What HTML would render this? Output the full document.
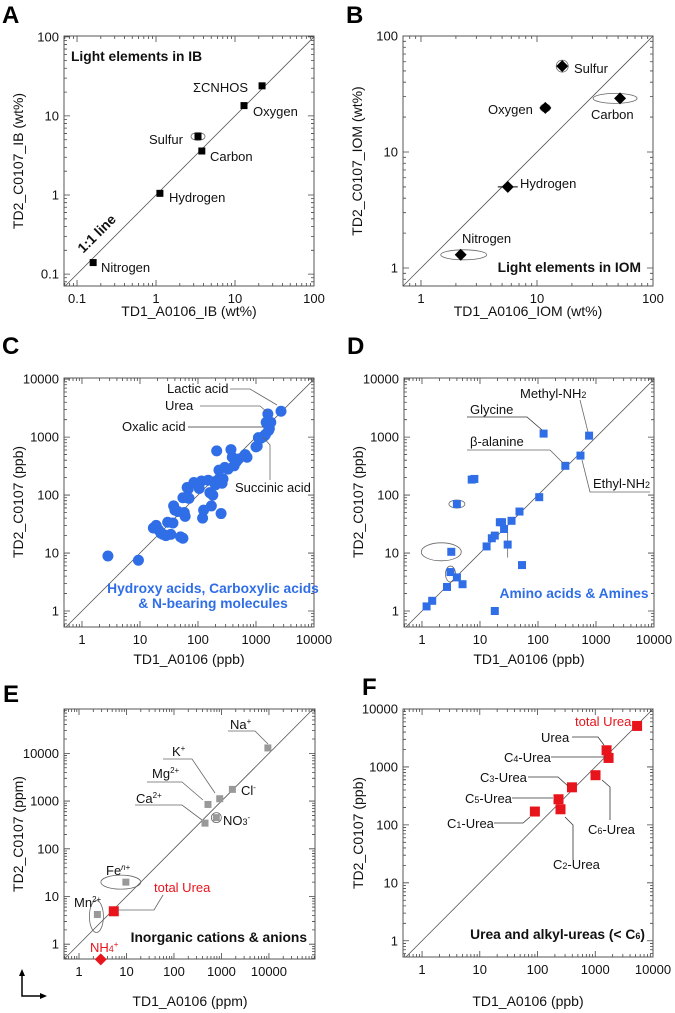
<!DOCTYPE html>
<html><head><meta charset="utf-8"><style>
html,body{margin:0;padding:0;background:#fff}
svg{display:block;font-family:"Liberation Sans",Arial,sans-serif}
.t{font-size:13px;fill:#111}
.tk{font-size:13px;fill:#111}
.ax{font-size:14px;fill:#111}
.b{font-weight:bold;font-size:13.8px;fill:#111}
.bl{font-weight:bold;font-size:13.8px;fill:#2f6ee6}
.pl{font-weight:bold;font-size:24px;fill:#000}
.red{fill:#e8141c}
.ld{stroke:#666;stroke-width:0.8;fill:none}
</style></head><body>
<svg id="fig" width="675" height="1013" viewBox="0 0 675 1013">
<g id="marks"></g>
<text class="pl" x="2" y="23">A</text>
<text class="pl" x="346" y="23">B</text>
<text class="pl" x="2" y="354">C</text>
<text class="pl" x="347" y="354">D</text>
<text class="pl" x="3" y="702">E</text>
<text class="pl" x="362" y="695">F</text>
<text class="ax" x="189" y="316" text-anchor="middle">TD1_A0106_IB (wt%)</text>
<text class="ax" transform="translate(23,161) rotate(-90)" text-anchor="middle">TD2_C0107_IB (wt%)</text>
<text class="ax" x="528" y="316" text-anchor="middle">TD1_A0106_IOM (wt%)</text>
<text class="ax" transform="translate(362,161) rotate(-90)" text-anchor="middle">TD2_C0107_IOM (wt%)</text>
<text class="ax" x="189" y="664" text-anchor="middle">TD1_A0106 (ppb)</text>
<text class="ax" transform="translate(23,502) rotate(-90)" text-anchor="middle">TD2_C0107 (ppb)</text>
<text class="ax" x="529" y="664" text-anchor="middle">TD1_A0106 (ppb)</text>
<text class="ax" transform="translate(363,502) rotate(-90)" text-anchor="middle">TD2_C0107 (ppb)</text>
<text class="ax" x="190" y="1006" text-anchor="middle">TD1_A0106 (ppm)</text>
<text class="ax" transform="translate(23,834) rotate(-90)" text-anchor="middle">TD2_C0107 (ppm)</text>
<text class="ax" x="528" y="1006" text-anchor="middle">TD1_A0106 (ppb)</text>
<text class="ax" transform="translate(363,833) rotate(-90)" text-anchor="middle">TD2_C0107 (ppb)</text>

<text class="b" x="71" y="61">Light elements in IB</text>
<text class="t" x="193" y="92">ΣCNHOS</text>
<text class="t" x="253" y="116">Oxygen</text>
<text class="t" x="149" y="144">Sulfur</text>
<text class="t" x="210" y="161">Carbon</text>
<text class="t" x="169" y="202">Hydrogen</text>
<text class="t" x="101" y="272">Nitrogen</text>
<text class="b" transform="translate(100,237) rotate(-45)" text-anchor="middle">1:1 line</text>

<text class="t" x="574" y="73">Sulfur</text>
<text class="t" x="488" y="114">Oxygen</text>
<text class="t" x="591" y="119">Carbon</text>
<text class="t" x="520" y="188">Hydrogen</text>
<text class="t" x="462" y="243">Nitrogen</text>
<text class="b" x="641" y="272" text-anchor="end">Light elements in IOM</text>

<text class="t" x="167" y="393">Lactic acid</text>
<polyline class="ld" points="230,389 250,389 277,405"/>
<text class="t" x="165" y="410">Urea</text>
<polyline class="ld" points="200,406 260,406 267,412"/>
<text class="t" x="122" y="431">Oxalic acid</text>
<polyline class="ld" points="188,427 263,427" style="stroke:#333"/>
<text class="t" x="235" y="492">Succinic acid</text>
<polyline class="ld" points="270,480 270,445 263,437"/>
<text class="bl" x="213" y="593" text-anchor="middle">Hydroxy acids, Carboxylic acids</text>
<text class="bl" x="213" y="608" text-anchor="middle">&amp; N-bearing molecules</text>

<text class="t" x="520" y="398">Methyl-NH<tspan font-size="9">2</tspan></text>
<polyline class="ld" points="580,400 588,432"/>
<text class="t" x="470" y="414">Glycine</text>
<polyline class="ld" points="467,417 527,417 542,430" style="stroke:#333"/>
<text class="t" x="470" y="446">β-alanine</text>
<polyline class="ld" points="467,450 550,450 563,463"/>
<text class="t" x="593" y="488">Ethyl-NH<tspan font-size="9">2</tspan></text>
<polyline class="ld" points="650,492 590,492 582,460"/>
<text class="bl" x="574" y="598" text-anchor="middle">Amino acids &amp; Amines</text>

<text class="t" x="230" y="729">Na<tspan font-size="8" dy="-5">+</tspan></text>
<polyline class="ld" points="228,731 255,731 268,744"/>
<text class="t" x="172" y="756">K<tspan font-size="8" dy="-5">+</tspan></text>
<polyline class="ld" points="163,759 192,759 215,793"/>
<text class="t" x="152" y="778">Mg<tspan font-size="8" dy="-5">2+</tspan></text>
<polyline class="ld" points="147,782 182,782 203,800"/>
<text class="t" x="136" y="803">Ca<tspan font-size="8" dy="-5">2+</tspan></text>
<polyline class="ld" points="135,805 182,805 202,820"/>
<text class="t" x="241" y="795">Cl<tspan font-size="8" dy="-5">-</tspan></text>
<text class="t" x="223" y="825">NO<tspan font-size="9">3</tspan><tspan font-size="8" dy="-5">-</tspan></text>
<text class="t" x="106" y="875">Fe<tspan font-size="8" dy="-5"><tspan font-style="italic">n</tspan>+</tspan></text>
<text class="t" x="74" y="907">Mn<tspan font-size="8" dy="-5">2+</tspan></text>
<text class="t red" x="154" y="892">total Urea</text>
<polyline class="ld" points="118,910 154,910 163,895"/>
<text class="t red" x="90" y="952">NH<tspan font-size="9">4</tspan><tspan font-size="8" dy="-5">+</tspan></text>
<text class="b" x="307" y="942" text-anchor="end">Inorganic cations &amp; anions</text>
<g stroke="#000" stroke-width="1.5" fill="none">
<polyline points="22,974 22,996 44,996"/>
<polygon points="22,969 19,976 25,976" fill="#000" stroke="none"/>
<polygon points="47,996 40,993 40,999" fill="#000" stroke="none"/>
</g>

<text class="t red" x="575" y="726">total Urea</text>
<text class="t" x="541" y="742">Urea</text>
<polyline class="ld" points="572,737 598,737 604,745" style="stroke:#333"/>
<text class="t" x="504" y="762">C<tspan font-size="9">4</tspan>-Urea</text>
<polyline class="ld" points="551,757 605,757" style="stroke:#333"/>
<text class="t" x="480" y="782">C<tspan font-size="9">3</tspan>-Urea</text>
<polyline class="ld" points="528,777 558,777 568,786" style="stroke:#333"/>
<text class="t" x="465" y="803">C<tspan font-size="9">5</tspan>-Urea</text>
<polyline class="ld" points="512,798 553,798" style="stroke:#333"/>
<text class="t" x="447" y="828">C<tspan font-size="9">1</tspan>-Urea</text>
<polyline class="ld" points="494,823 523,823 530,817" style="stroke:#333"/>
<text class="t" x="553" y="869">C<tspan font-size="9">2</tspan>-Urea</text>
<polyline class="ld" points="573,860 573,825 565,817" style="stroke:#333"/>
<text class="t" x="588" y="834">C<tspan font-size="9">6</tspan>-Urea</text>
<polyline class="ld" points="610,820 610,787 602,780" style="stroke:#333"/>
<text class="b" x="645" y="939" text-anchor="end">Urea and alkyl-ureas (&lt; C<tspan font-size="9">6</tspan>)</text>
</svg>
<script>
const aNames=["CNHOS","Oxygen","Sulfur","Carbon","Hydrogen","Nitrogen"];
const aX=[22,13,3.4,3.8,1.12,0.16];
const aY=[24,13.5,5.5,3.6,1.05,0.14];
const bNames=["Sulfur","Oxygen","Carbon","Hydrogen","Nitrogen"];
const bX=[16.5,11.8,52,5.6,2.2];
const bY=[55,24,29,5,1.3];
const cX=[2.8,9.4,17,19,21,23,25,28,30,34,37,38,40,45,50,55,58,60,55,65,70,65,68,85,100,105,115,120,125,150,160,170,180,190,200,210,220,230,240,250,260,270,290,330,370,390,420,460,500,650,700,1000,1050,1100,1200,1300,1400,1450,1500,1550,1600,1700,1800,1650,2700];
const cY=[8.9,7.5,27,30,25,22,21,20,34,21,33,65,55,52,19,18,50,43,90,90,88,135,128,165,160,130,175,40,55,180,110,65,100,170,150,580,180,270,200,48,160,190,300,280,610,450,320,380,420,500,450,680,700,980,950,1000,1050,1100,1800,1700,2500,1400,1800,1300,2800];
const dX=[13,16,18,26,22,24,35,30,53,18,7.2,8,4,3.2,3.1,4,5,2.7,1.5,1.2,48,105,296,540,125,760];
const dY=[13,18,20,26,34,34,36,14,6.2,1,185,190,70,10.5,4.7,3.8,2.9,2.6,1.5,1.2,52,92,320,480,1150,1060];
const eNames=["Na","K","Cl","Mg","Ca","NO3","Fe","Mn"];
const eX=[9500,920,1700,520,450,780,9.7,2.44];
const eY=[13000,1120,1760,850,345,450,20,4.2];
const eUreaX=[5.4], eUreaY=[4.9];
const eNH4X=[2.87], eNH4Y=[0.48];
const fNames=["total Urea","Urea","C4","C6","C3","C5","C2","C1"];
const fX=[5300,1570,1700,1010,395,231,250,90];
const fY=[5100,1940,1430,720,445,277,186,170];
const tickAB_A=[0.1,1,10,100];
const tickB=[1,10,100];
const tick4=[1,10,100,1000,10000];

const P={
 A:{x0:64,x1:314,y0:36,y1:286,lx0:-1.165,lx1:2.0,ly0:-1.15,ly1:2.01,xt:tickAB_A,yt:tickAB_A},
 B:{x0:403,x1:653,y0:36,y1:286,lx0:-0.155,lx1:2.0,ly0:-0.155,ly1:2.0,xt:tickB,yt:tickB},
 C:{x0:64,x1:314,y0:378,y1:627,lx0:-0.31,lx1:4.0,ly0:-0.276,ly1:4.02,xt:tick4,yt:tick4},
 D:{x0:404,x1:654,y0:378,y1:627,lx0:-0.31,lx1:4.0,ly0:-0.276,ly1:4.02,xt:tick4,yt:tick4},
 E:{x0:64,x1:315,y0:709,y1:959,lx0:-0.316,lx1:4.97,ly0:-0.31,ly1:4.93,xt:tick4,yt:tick4},
 F:{x0:403,x1:653,y0:709,y1:957,lx0:-0.33,lx1:4.0,ly0:-0.28,ly1:4.0,xt:tick4,yt:tick4}
};
const NS="http://www.w3.org/2000/svg";
const root=document.getElementById('marks');
function sx(p,v){return p.x0+(Math.log10(v)-p.lx0)/(p.lx1-p.lx0)*(p.x1-p.x0);}
function sy(p,v){return p.y1-(Math.log10(v)-p.ly0)/(p.ly1-p.ly0)*(p.y1-p.y0);}
function mk(tag,attrs,parent){const e=document.createElementNS(NS,tag);for(const k in attrs)e.setAttribute(k,attrs[k]);(parent||root).appendChild(e);return e;}
function fmt(v){return v<1?String(v):String(Math.round(v));}

function axes(key){
 const p=P[key];const g=mk('g',{});
 
 
 const lo=Math.max(p.lx0,p.ly0),hi=Math.min(p.lx1,p.ly1);
 const ln=mk('line',{x1:sx(p,Math.pow(10,lo)),y1:sy(p,Math.pow(10,lo)),x2:sx(p,Math.pow(10,hi)),y2:sy(p,Math.pow(10,hi)),stroke:'#555','stroke-width':0.8},g);
 
 
 let d='';
 for(let k=Math.floor(p.lx0);k<=Math.ceil(p.lx1);k++)for(let m=1;m<=9;m++){const l=k+Math.log10(m);if(l<p.lx0||l>p.lx1)continue;const x=sx(p,Math.pow(10,l));const L=m==1?6:3;d+=`M${x},${p.y1}v${-L}M${x},${p.y0}v${L}`;}
 for(let k=Math.floor(p.ly0);k<=Math.ceil(p.ly1);k++)for(let m=1;m<=9;m++){const l=k+Math.log10(m);if(l<p.ly0||l>p.ly1)continue;const y=sy(p,Math.pow(10,l));const L=m==1?6:3;d+=`M${p.x0},${y}h${L}M${p.x1},${y}h${-L}`;}
 mk('path',{d:d,stroke:'#444','stroke-width':0.8,fill:'none'},g);
 const fr=mk('rect',{x:p.x0,y:p.y0,width:p.x1-p.x0,height:p.y1-p.y0,fill:'none',stroke:'#555','stroke-width':1},g);
 
 
 p.xt.forEach(v=>{const t=mk('text',{x:sx(p,v),y:p.y1+17,'text-anchor':'middle',class:'tk'},g);t.textContent=fmt(v);
  
  });
 p.yt.forEach(v=>{const t=mk('text',{x:p.x0-5,y:sy(p,v)+4.5,'text-anchor':'end',class:'tk'},g);t.textContent=fmt(v);
  
  });
}
function sq(p,x,y,s,fill,name){const r=mk('rect',{x:sx(p,x)-s/2,y:sy(p,y)-s/2,width:s,height:s,fill:fill});
 
 return r;}
function dia(p,x,y,s,fill,name){const cx=sx(p,x),cy=sy(p,y);const r=mk('polygon',{points:`${cx},${cy-s} ${cx+s},${cy} ${cx},${cy+s} ${cx-s},${cy}`,fill:fill});
 
 return r;}
function ell(p,x,y,rx,ry,dx,dy){const e=mk('ellipse',{cx:sx(p,x)+(dx||0),cy:sy(p,y)+(dy||0),rx:rx,ry:ry,fill:'none',stroke:'#666','stroke-width':0.8});
 
 }

['A','B','C','D','E','F'].forEach(axes);
ell(P.A,aX[2],aY[2],7,4);
aX.forEach((v,i)=>sq(P.A,v,aY[i],7,'#000','point-'+aNames[i].toLowerCase()));
ell(P.B,bX[0],bY[0],6,6);ell(P.B,bX[1],bY[1],5,4);ell(P.B,bX[2],bY[2],22,5,-5);ell(P.B,bX[4],bY[4],23,5,3);
{const p=P.B;mk('line',{x1:sx(p,bX[3])-10,x2:sx(p,bX[3])+10,y1:sy(p,bY[3]),y2:sy(p,bY[3]),stroke:'#000','stroke-width':1});}
bX.forEach((v,i)=>dia(P.B,v,bY[i],6,'#000','point-'+bNames[i].toLowerCase()));
cX.forEach((v,i)=>{const c=mk('circle',{cx:sx(P.C,v),cy:sy(P.C,cY[i]),r:5.5,fill:'#2f6ee6'});
 
 });
ell(P.D,dX[12],dY[12],8,4);ell(P.D,dX[13],dY[13],20,9,-10);ell(P.D,dX[14],dY[14],5,8,0,2);
{const p=P.D;mk('line',{x1:sx(p,dX[7]),x2:sx(p,dX[7]),y1:sy(p,dY[7])-12,y2:sy(p,dY[7])+13,stroke:'#666','stroke-width':0.8});}
dX.forEach((v,i)=>sq(P.D,v,dY[i],8,'#2f6ee6','point-d'));
ell(P.E,eX[5],eY[5],5,5);ell(P.E,eX[6],eY[6],20,7,-5);ell(P.E,eX[7],eY[7],7,16,-1,2);
eX.forEach((v,i)=>sq(P.E,v,eY[i],7,'#999','point-'+eNames[i].toLowerCase()));
sq(P.E,eUreaX[0],eUreaY[0],10,'#e8141c','point-total-urea');
dia(P.E,eNH4X[0],eNH4Y[0],6,'#e8141c','point-nh4');
fX.forEach((v,i)=>sq(P.F,v,fY[i],10,'#e8141c','point-'+fNames[i].toLowerCase().replace(' ','-')));
</script>
</body></html>
